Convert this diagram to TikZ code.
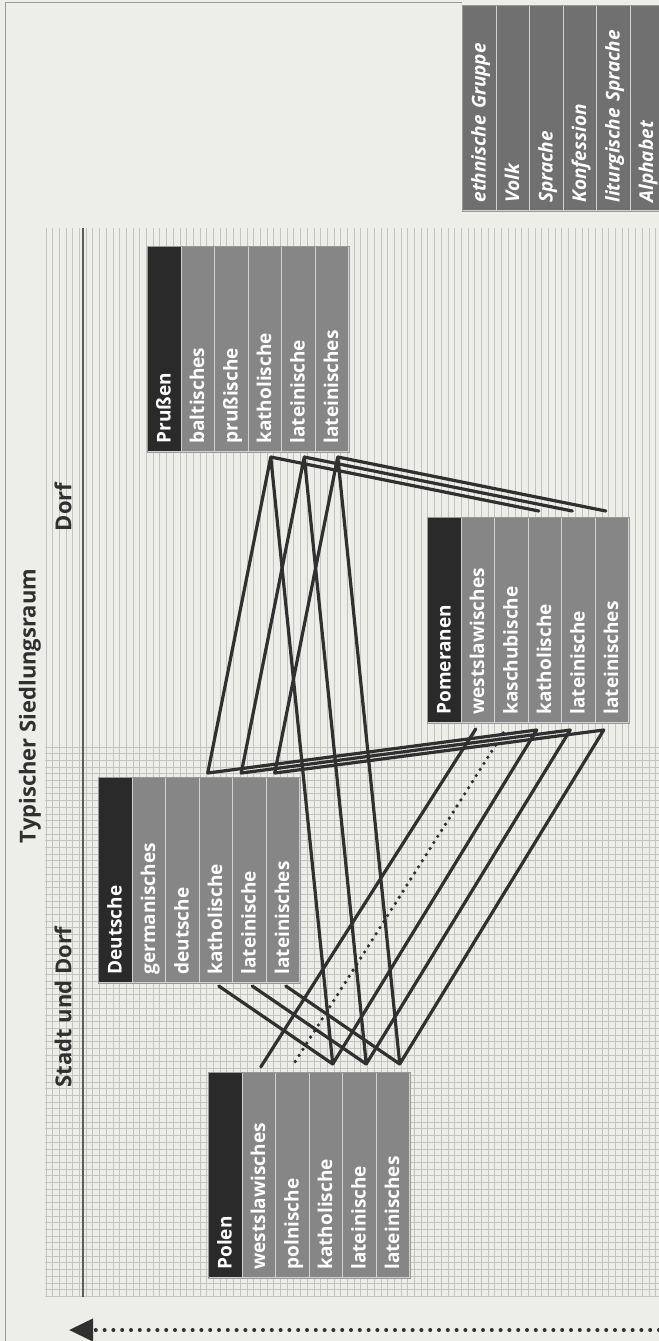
\documentclass[tikz,border=0pt]{standalone}
\usepackage{fontspec}
\setmainfont{Open Sans}
\usetikzlibrary{calc,arrows.meta}

\definecolor{paper}{HTML}{EDEDE9}
\definecolor{inkgray}{HTML}{303030}
\definecolor{headgray}{HTML}{2A2A2A}
\definecolor{cellgray}{HTML}{868686}
\definecolor{keygray}{HTML}{707070}
\definecolor{rulegray}{HTML}{C3C3BF}

\newcommand{\ethtable}[5][]% cell style, name, top-left corner, header, entries
    {\node[cell, fill=headgray, #1] (#2-0) at (#3) {#4};
     \foreach \entry [count=\i] in {#5}
        \node[cell, #1] (#2-\i) at ($(#3)+(33.5*\i,0)$) {\entry};
     \draw[frame] (#2-0.north east) rectangle (#2-5.south west);
}

\begin{document}
\begin{tikzpicture}[
    x=0.5pt, y=-0.5pt,
    cell/.style={rotate=90, anchor=north east, minimum width=102.5pt, minimum height=16.75pt,
        text width=94.5pt, inner xsep=4pt, inner ysep=0pt, align=left, fill=cellgray,
        draw=white!82!black, line width=0.5pt, text=white, text height=1.6ex, text depth=0.4ex,
        font=\bfseries\fontsize{9.5}{11}\selectfont},
    frame/.style={draw=black!40, line width=0.5pt},
    rowtitle/.style={rotate=90, text=inkgray, font=\bfseries\fontsize{11}{13}\selectfont},
    hatch/.style={rulegray, line width=0.45pt},
    wire/.style={inkgray, line width=1.6pt, line cap=round, line join=round},
    weakwire/.style={wire, line width=1.8pt, dash pattern=on 0pt off 3.6pt},
    timeline/.style={inkgray, line width=2pt, line cap=round, dash pattern=on 0pt off 4.4pt,
        -{Triangle[length=12pt, width=11pt]}}
]
    % paper and page frame
    \fill[paper] (0,0) rectangle (659,1341);
    \useasboundingbox (0,0) rectangle (659,1341);
    \draw[black!40, line width=0.5pt] (5,1341) -- (5,2) -- (462,2);

    % ruled background: lines for Dorf, grid for Stadt und Dorf
    \foreach \x in {46,52.7,...,659}
        \draw[hatch] (\x,228) -- (\x,1297);
    \foreach \y in {747,753.7,...,1297}
        \draw[hatch] (45,\y) -- (659,\y);
    \draw[inkgray!80, line width=0.8pt] (83,228) -- (83,1297);

    % row titles
    \node[rowtitle] (raum)  at (30,706)  {Typischer Siedlungsraum};
    \node[rowtitle] (dorf)  at (63,507)  {Dorf};
    \node[rowtitle] (stadt) at (63,1007) {Stadt und Dorf};

    % key and the four groups
    \ethtable[fill=keygray, font=\bfseries\itshape\fontsize{9.5}{11}\selectfont]{key}{462,5}
        {ethnische Gruppe}{Volk, Sprache, Konfession, liturgische Sprache, Alphabet}
    \ethtable{pr}{147,246}{Prußen}{baltisches, prußische, katholische, lateinische, lateinisches}
    \ethtable{po}{427,517}{Pomeranen}{westslawisches, kaschubische, katholische, lateinische, lateinisches}
    \ethtable{de}{98,777}{Deutsche}{germanisches, deutsche, katholische, lateinische, lateinisches}
    \ethtable{pl}{208,1072}{Polen}{westslawisches, polnische, katholische, lateinische, lateinisches}

    % attach points of the shared entries
    \foreach \i in {3,4,5}{
        \coordinate (pr-b\i) at ([shift={(3pt,-2.5pt)}]pr-\i.west);
        \coordinate (po-t\i) at ([shift={(-3pt,3pt)}]po-\i.east);
        \coordinate (po-b\i) at ([shift={(-4pt,-3.5pt)}]po-\i.west);
        \coordinate (de-t\i) at ([shift={(-4pt,2pt)}]de-\i.east);
        \coordinate (de-b\i) at ([shift={(1.5pt,-1.5pt)}]de-\i.west);
        \coordinate (pl-t\i) at ([shift={(3.5pt,4pt)}]pl-\i.east);
    }
    \coordinate (po-b1) at ([shift={(-1pt,-3pt)}]po-1.west);
    \coordinate (po-b2) at ([shift={(-4pt,-5pt)}]po-2.west);
    \coordinate (pl-t1) at ([shift={(1pt,2.5pt)}]pl-1.east);
    \coordinate (pl-t2) at ([shift={(1pt,4.5pt)}]pl-2.east);

    % links between equal entries
    \foreach \i in {3,4,5}
        \draw[wire] (pr-b\i) -- (po-t\i)
                    (pr-b\i) -- (de-t\i) -- (po-b\i) -- (pl-t\i)
                    (pr-b\i) -- (pl-t\i)
                    (de-b\i) -- (pl-t\i);
    \draw[wire] (po-b1) -- (pl-t1);
    \draw[weakwire] (po-b2) -- (pl-t2);

    % time axis
    \coordinate (arr-from) at (659,1330);
    \coordinate (arr-to)   at (69,1330);
    \draw[timeline] (arr-from) -- (arr-to);
\end{tikzpicture}
\end{document}
